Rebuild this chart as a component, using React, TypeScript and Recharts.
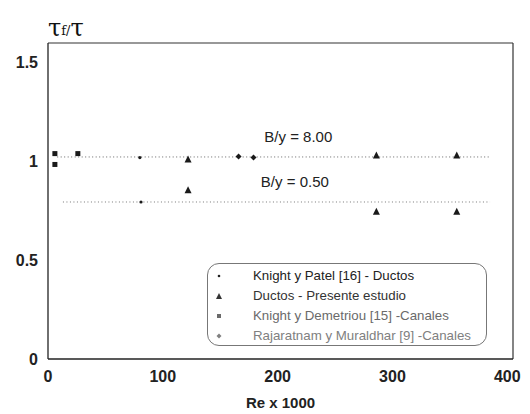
import React from "react";
import {
  ComposedChart,
  Scatter,
  Line,
  XAxis,
  YAxis,
  ReferenceLine,
  ReferenceDot,
  Legend,
} from "recharts";

// Re x 1000 vs tau_f / tau
const patelPts = [
  { x: 80, y: 1.02 },
  { x: 81, y: 0.795 },
];
const presentePts = [
  { x: 122, y: 1.01 },
  { x: 122, y: 0.855 },
  { x: 286, y: 1.03 },
  { x: 356, y: 1.03 },
  { x: 286, y: 0.745 },
  { x: 356, y: 0.745 },
];
const demetriouPts = [
  { x: 6, y: 1.04 },
  { x: 6, y: 0.985 },
  { x: 26, y: 1.04 },
];
const rajaratnamPts = [
  { x: 166, y: 1.025 },
  { x: 179, y: 1.02 },
];

// mean trend lines for each aspect ratio
const lineBy8 = [
  { x: 8, y: 1.023 },
  { x: 385, y: 1.023 },
];
const lineBy05 = [
  { x: 13, y: 0.795 },
  { x: 385, y: 0.795 },
];

const xTicks = [0, 100, 200, 300, 400];
const yTicks = [0, 0.5, 1, 1.5];

const legendRows = [
  { name: "Knight y Patel [16] - Ductos", marker: "dot", color: "#222" },
  { name: "Ductos - Presente estudio", marker: "tri", color: "#333" },
  { name: "Knight y Demetriou [15] -Canales", marker: "sq", color: "#6a6a6a" },
  { name: "Rajaratnam y Muraldhar [9] -Canales", marker: "dia", color: "#808080" },
];

const tickStyle = {
  fontFamily: "Liberation Sans, Arial, sans-serif",
  fontWeight: 700,
  fontSize: 16,
  fill: "#222",
};

const Triangle = (props: any) => {
  const { cx, cy } = props;
  return <path d={`M${cx},${cy - 4} L${cx + 3.5},${cy + 3} L${cx - 3.5},${cy + 3} Z`} fill="#1a1a1a" />;
};
const Square = (props: any) => {
  const { cx, cy } = props;
  return <rect x={cx - 2.5} y={cy - 2.5} width={5} height={5} fill="#1a1a1a" />;
};
const SmallDot = (props: any) => {
  const { cx, cy } = props;
  return <circle cx={cx} cy={cy} r={1.6} fill="#1a1a1a" />;
};
const Diamond = (props: any) => {
  const { cx, cy } = props;
  return <path d={`M${cx},${cy - 3} L${cx + 3},${cy} L${cx},${cy + 3} L${cx - 3},${cy} Z`} fill="#1a1a1a" />;
};

function LegendMarker({ kind, color }: { kind: string; color: string }) {
  if (kind === "tri") return <path d="M5,1 L8,7 L2,7 Z" fill={color} />;
  if (kind === "sq") return <rect x={3} y={2} width={4} height={4} fill={color} />;
  if (kind === "dia") return <path d="M5,1.5 L7.5,4 L5,6.5 L2.5,4 Z" fill={color} />;
  return <circle cx={5} cy={4} r={1.3} fill={color} />;
}

function LegendBox() {
  return (
    <div
      style={{
        width: 280,
        height: 83,
        border: "1px solid #777",
        borderRadius: 12,
        boxSizing: "border-box",
        padding: "2px 0 0 6px",
        background: "#fff",
        fontFamily: "Liberation Sans, Arial, sans-serif",
        fontSize: 13.3,
        textAlign: "left",
        lineHeight: "20px",
      }}
    >
      {legendRows.map((r) => (
        <div key={r.name} style={{ display: "flex", alignItems: "center", height: 20 }}>
          <svg width={10} height={8} style={{ marginRight: 29 }}>
            <LegendMarker kind={r.marker} color={r.color} />
          </svg>
          <span style={{ color: r.color }}>{r.name}</span>
        </div>
      ))}
    </div>
  );
}

function TauLabel() {
  return (
    <text x={48} y={36} fontFamily="DejaVu Serif, Liberation Serif, serif" fill="#111">
      <tspan fontSize={24}>τ</tspan>
      <tspan fontSize={13} dy={-1}>f/</tspan>
      <tspan fontSize={24} dy={1}>τ</tspan>
    </text>
  );
}

export default function App() {
  return (
    <div style={{ position: "absolute", left: 0, top: 0, width: 530, height: 414, background: "#fff" }}>
      <ComposedChart width={530} height={414} margin={{ top: 43, right: 17, bottom: 0, left: 0 }}>
        <XAxis
          type="number"
          dataKey="x"
          domain={[0, 405]}
          ticks={xTicks}
          tick={tickStyle}
          tickLine={false}
          tickMargin={6}
          height={55}
          axisLine={{ stroke: "#222", strokeWidth: 1.3 }}
          label={{
            value: "Re x 1000",
            position: "insideBottom",
            offset: 6,
            style: { ...tickStyle, fontSize: 15 },
          }}
        />
        <YAxis
          type="number"
          dataKey="y"
          domain={[0, 1.6]}
          ticks={yTicks}
          tick={tickStyle}
          tickLine={false}
          tickMargin={4}
          width={48}
          axisLine={{ stroke: "#222", strokeWidth: 1.3 }}
        />
        <ReferenceLine y={1.6} stroke="#333" strokeWidth={1.2} />
        <ReferenceLine x={405} stroke="#333" strokeWidth={1.2} />

        <Line data={lineBy8} dataKey="y" stroke="#666" strokeWidth={1} strokeDasharray="1 2.5" dot={false} isAnimationActive={false} legendType="none" />
        <Line data={lineBy05} dataKey="y" stroke="#777" strokeWidth={1} strokeDasharray="1 2.5" dot={false} isAnimationActive={false} legendType="none" />

        <Scatter name="Knight y Patel [16] - Ductos" data={patelPts} shape={SmallDot} isAnimationActive={false} />
        <Scatter name="Ductos - Presente estudio" data={presentePts} shape={Triangle} isAnimationActive={false} />
        <Scatter name="Knight y Demetriou [15] -Canales" data={demetriouPts} shape={Square} isAnimationActive={false} />
        <Scatter name="Rajaratnam y Muraldhar [9] -Canales" data={rajaratnamPts} shape={Diamond} isAnimationActive={false} />

        <ReferenceDot
          x={218}
          y={1.124}
          r={1}
          fill="none"
          stroke="none"
          label={{
            value: "B/y = 8.00",
            position: "center",
            style: { fontFamily: "Liberation Sans, Arial, sans-serif", fontSize: 15, fill: "#222" },
          }}
        />
        <ReferenceDot
          x={215}
          y={0.9}
          r={1}
          fill="none"
          stroke="none"
          label={{
            value: "B/y = 0.50",
            position: "center",
            style: { fontFamily: "Liberation Sans, Arial, sans-serif", fontSize: 15, fill: "#222" },
          }}
        />

        <Legend
          layout="horizontal"
          verticalAlign="middle"
          align="center"
          content={() => <LegendBox />}
          wrapperStyle={{ position: "absolute", left: 207, top: 263, width: 280 }}
        />
        <TauLabel />
      </ComposedChart>
    </div>
  );
}
